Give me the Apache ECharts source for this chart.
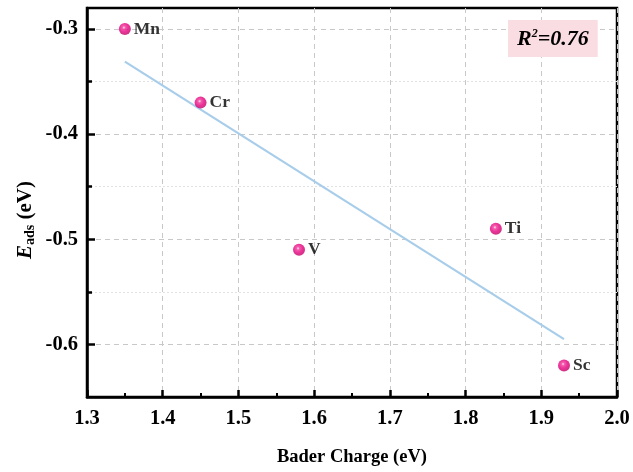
<!DOCTYPE html>
<html><head><meta charset="utf-8">
<script src="https://cdn.jsdelivr.net/npm/echarts@6/dist/echarts.min.js"></script>
<style>html,body{margin:0;padding:0;background:#fff}#c{width:633px;height:472px}</style>
</head><body><div id="c"></div>
<script>
const elements = ['Mn', 'Cr', 'V', 'Ti', 'Sc'];
const baderCharge = [1.35, 1.45, 1.58, 1.84, 1.93];
const eads = [-0.30, -0.37, -0.51, -0.49, -0.62];
const fitX = [1.35, 1.93];
const fitY = [-0.331, -0.595];
const yMajorTicks = [-0.6, -0.5, -0.4, -0.3];
const yMinorTicks = [-0.55, -0.45, -0.35];
const xTicks = [1.3, 1.4, 1.5, 1.6, 1.7, 1.8, 1.9, 2.0];
const rSquared = '0.76';

const serif = '"Liberation Serif","Times New Roman",serif';
const chart = echarts.init(document.getElementById('c'));
const pts = baderCharge.map((x, i) => ({value: [x, eads[i]], name: elements[i]}));
const fit = fitX.map((x, i) => [x, fitY[i]]);
chart.setOption({
  animation: false,
  grid: {left: 87, right: 16, top: 8, bottom: 73, show: true, borderColor: '#000', borderWidth: 2.5, backgroundColor: 'transparent'},
  title: {
    text: '{a|R}{b|2}{a|=' + rSquared + '}',
    left: 508, top: 20,
    backgroundColor: '#fadde2',
    padding: [8, 9, 7, 9],
    textStyle: {rich: {
      a: {fontFamily: serif, fontSize: 22, fontWeight: 'bold', fontStyle: 'italic', color: '#000'},
      b: {fontFamily: serif, fontSize: 12, fontWeight: 'bold', fontStyle: 'italic', color: '#000', padding: [0, 0, 10, 0]}
    }}
  },
  graphic: [{
    type: 'text', x: 26, y: 220, rotation: Math.PI / 2, silent: true,
    style: {
      text: '{i|E}{s|ads}{n| (eV)}', align: 'center', verticalAlign: 'middle',
      rich: {
        i: {fontFamily: serif, fontSize: 21, fontWeight: 'bold', fontStyle: 'italic', fill: '#000'},
        s: {fontFamily: serif, fontSize: 14, fontWeight: 'bold', fill: '#000', padding: [9, 0, 0, 0]},
        n: {fontFamily: serif, fontSize: 21, fontWeight: 'bold', fill: '#000'}
      }
    }
  }],
  xAxis: {
    type: 'value', min: 1.3, max: 2.0, interval: 0.1,
    name: 'Bader Charge (eV)', nameLocation: 'middle', nameGap: 51,
    nameTextStyle: {fontFamily: serif, fontSize: 18.5, fontWeight: 'bold', color: '#000'},
    axisLine: {show: true, onZero: false, lineStyle: {color: '#000', width: 2.5}},
    axisTick: {show: true, inside: true, length: 7, lineStyle: {color: '#000', width: 2.5}, customValues: xTicks},
    minorTick: {show: true, splitNumber: 2, length: 4, lineStyle: {color: '#000', width: 2}},
    axisLabel: {fontFamily: serif, fontSize: 20.5, fontWeight: 'bold', color: '#000', margin: 11, customValues: xTicks,
      formatter: v => v.toFixed(1)},
    splitLine: {show: true, lineStyle: {color: '#c8c8c8', type: [5, 4], width: 1}}
  },
  yAxis: [{
    type: 'value', min: -0.65, max: -0.28,
    axisLine: {show: true, onZero: false, lineStyle: {color: '#000', width: 2.5}},
    axisTick: {show: true, inside: true, length: 8, lineStyle: {color: '#000', width: 2.5}, customValues: yMajorTicks},
    axisLabel: {fontFamily: serif, fontSize: 20.5, fontWeight: 'bold', color: '#000', margin: 9, customValues: yMajorTicks,
      formatter: v => v.toFixed(1)},
    splitLine: {show: true, lineStyle: {color: '#c8c8c8', type: [5, 4], width: 1}}
  }, {
    type: 'value', min: -0.65, max: -0.28, position: 'left',
    axisLine: {show: false},
    axisTick: {show: true, inside: true, length: 5, lineStyle: {color: '#000', width: 2.5}, customValues: yMinorTicks},
    axisLabel: {show: false, customValues: yMinorTicks},
    splitLine: {show: true, lineStyle: {color: '#e2e2e2', type: [2, 2], width: 1}}
  }],
  series: [{
    type: 'line', data: fit, symbol: 'none', silent: true,
    lineStyle: {color: '#a8cdea', width: 2.2}, z: 2
  }, {
    type: 'scatter', data: pts, symbolSize: 12, z: 3,
    itemStyle: {color: {type: 'radial', x: 0.42, y: 0.38, r: 0.6, colorStops: [
      {offset: 0, color: '#ffe0f0'}, {offset: 0.22, color: '#f2359a'}, {offset: 0.6, color: '#e5007e'}, {offset: 1, color: '#c40068'}]}},
    label: {show: true, position: 'right', distance: 3, formatter: p => p.name,
      fontFamily: serif, fontSize: 17.5, fontWeight: 'bold', color: '#000'}
  }]
});
</script></body></html>
